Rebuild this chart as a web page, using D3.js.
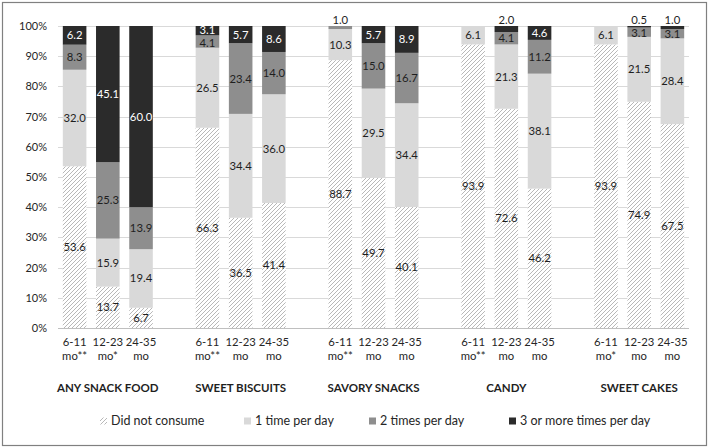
<!DOCTYPE html>
<html>
<head>
<meta charset="utf-8">
<script src="https://cdn.jsdelivr.net/npm/d3@7"></script>
<style>
  html, body { margin: 0; padding: 0; background: #fff; }
  svg { display: block; font-family: Lato, "Open Sans", sans-serif; }
</style>
</head>
<body>
<svg id="chart" width="709" height="448"></svg>
<script>
// ---- data ----
const groups = ["ANY SNACK FOOD", "SWEET BISCUITS", "SAVORY SNACKS", "CANDY", "SWEET CAKES"];
const ageTop = ["6-11", "12-23", "24-35"];
const ageBottom = [
  ["mo**", "mo*", "mo"],
  ["mo**", "mo", "mo"],
  ["mo**", "mo", "mo"],
  ["mo**", "mo", "mo"],
  ["mo*", "mo", "mo"]
];
const seriesNames = ["Did not consume", "1 time per day", "2 times per day", "3 or more times per day"];
const didNotConsume = [53.6, 13.7, 6.7, 66.3, 36.5, 41.4, 88.7, 49.7, 40.1, 93.9, 72.6, 46.2, 93.9, 74.9, 67.5];
const oncePerDay    = [32.0, 15.9, 19.4, 26.5, 34.4, 36.0, 10.3, 29.5, 34.4, 6.1, 21.3, 38.1, 6.1, 21.5, 28.4];
const twicePerDay   = [8.3, 25.3, 13.9, 4.1, 23.4, 14.0, 1.0, 15.0, 16.7, 0, 4.1, 11.2, 0, 3.1, 3.1];
const threePlus     = [6.2, 45.1, 60.0, 3.1, 5.7, 8.6, 0, 5.7, 8.9, 0, 2.0, 4.6, 0, 0.5, 1.0];
const yTicks = [0, 10, 20, 30, 40, 50, 60, 70, 80, 90, 100];

(function () {
// ---- build table ----
const keys = ["s0", "s1", "s2", "s3"];
const rows = [];
const domain = [];
groups.forEach((g, gi) => {
  for (let a = 0; a < 3; a++) {
    const i = gi * 3 + a;
    const id = "b" + i;
    rows.push({ id, gi, a, s0: didNotConsume[i], s1: oncePerDay[i], s2: twicePerDay[i], s3: threePlus[i] });
    domain.push(id);
  }
  if (gi < groups.length - 1) domain.push("gap" + gi);
});

const svg = d3.select("#chart");
const W = 709, H = 448;
const mLeft = 58, mRight = 689, mTop = 26, mBottom = 328;

// border
svg.append("rect").attr("x", 2.5).attr("y", 2.5).attr("width", W - 5).attr("height", H - 5)
  .attr("fill", "#fff").attr("stroke", "#808080").attr("stroke-width", 1.2);

// hatch pattern
const defs = svg.append("defs");
const pat = defs.append("pattern").attr("id", "hatch").attr("patternUnits", "userSpaceOnUse")
  .attr("width", 4).attr("height", 4);
pat.append("rect").attr("width", 4).attr("height", 4).attr("fill", "#fff");
pat.append("path").attr("d", "M-1,1 L1,-1 M0,4 L4,0 M3,5 L5,3")
  .attr("stroke", "#ababab").attr("stroke-width", 0.85);

const fills = ["url(#hatch)", "#d9d9d9", "#8e8e8e", "#2b2b2b"];
const labelColors = ["#1f1f1f", "#1f1f1f", "#1f1f1f", "#ffffff"];

const x = d3.scaleBand().domain(domain).range([mLeft, mRight]).paddingInner(0.29).paddingOuter(0.145);
const y = d3.scaleLinear().domain([0, 1]).range([mBottom, mTop]);

// gridlines
svg.append("g").selectAll("line").data(yTicks).join("line")
  .attr("x1", mLeft).attr("x2", mRight)
  .attr("y1", d => Math.round(y(d / 100)) + 0.5).attr("y2", d => Math.round(y(d / 100)) + 0.5)
  .attr("stroke", d => d === 0 ? "#bfbfbf" : "#d9d9d9").attr("stroke-width", 1);

// y axis labels
const yAxis = d3.axisLeft(y).tickValues(yTicks.map(d => d / 100)).tickFormat(d => Math.round(d * 100) + "%").tickSize(0).tickPadding(0);
const ya = svg.append("g").attr("transform", `translate(47,0)`).call(yAxis);
ya.select(".domain").remove();
ya.selectAll("text").attr("font-family", "Lato").attr("font-size", 11).attr("fill", "#262626");

// stack
const stack = d3.stack().keys(keys).offset(d3.stackOffsetExpand);
const stacked = stack(rows);

const layers = svg.append("g").selectAll("g").data(stacked).join("g")
  .attr("fill", (d, i) => fills[i]);
layers.selectAll("rect").data(d => d).join("rect")
  .attr("x", d => x(d.data.id))
  .attr("width", x.bandwidth())
  .attr("y", d => y(d[1]))
  .attr("height", d => Math.max(0, y(d[0]) - y(d[1])));

// data labels, collected per bar
const perBar = {};
stacked.forEach((layer, si) => {
  layer.forEach(d => {
    const v = d.data[keys[si]];
    if (!v) return;
    const cx = x(d.data.id) + x.bandwidth() / 2;
    let cy, col;
    if (v < 2.5) {
      cy = y(1) - 6;
      col = "#1f1f1f";
    } else {
      cy = (y(d[0]) + y(d[1])) / 2;
      col = labelColors[si];
    }
    (perBar[d.data.id] = perBar[d.data.id] || []).push({ cx, cy, col, v });
  });
});
const minGap = 13;
Object.values(perBar).forEach(list => {
  list.sort((a, b) => b.cy - a.cy); // bottom to top
  for (let k = 1; k < list.length; k++) {
    const lo = list[k - 1], hi = list[k];
    const gap = lo.cy - hi.cy;
    if (gap < minGap) {
      const shift = (minGap - gap) / 2;
      lo.cy += shift; hi.cy -= shift;
    }
  }
});
const lab = svg.append("g").attr("font-size", 11.3).attr("text-anchor", "middle");
Object.values(perBar).forEach(list => list.forEach(l => {
  lab.append("text").attr("x", l.cx).attr("y", l.cy).attr("dy", "0.35em")
    .attr("fill", l.col).text(l.v.toFixed(1));
}));

// x tick labels
const xl = svg.append("g").attr("font-size", 11.3).attr("fill", "#262626").attr("text-anchor", "middle");
rows.forEach(r => {
  const cx = x(r.id) + x.bandwidth() / 2;
  xl.append("text").attr("x", cx).attr("y", 342).attr("dy", "0.35em").text(ageTop[r.a]);
  xl.append("text").attr("x", cx).attr("y", 356).attr("dy", "0.35em").text(ageBottom[r.gi][r.a]);
});

// group labels
const gl = svg.append("g").attr("font-size", 11.5).attr("font-weight", "bold").attr("fill", "#1f1f1f").attr("text-anchor", "middle");
groups.forEach((g, gi) => {
  const x0 = x("b" + (gi * 3)), x1 = x("b" + (gi * 3 + 2)) + x.bandwidth();
  gl.append("text").attr("x", (x0 + x1) / 2).attr("y", 388).attr("dy", "0.35em").text(g);
});

// legend
const legendX = [100, 244, 369, 509];
const lg = svg.append("g").attr("font-size", 12.5).attr("fill", "#262626");
seriesNames.forEach((s, i) => {
  const g = lg.append("g").attr("transform", `translate(${legendX[i]},421)`);
  g.append("rect").attr("x", 0).attr("y", -3.5).attr("width", 7).attr("height", 7)
    .attr("fill", fills[i]);
  g.append("text").attr("x", 11).attr("y", 0).attr("dy", "0.35em").text(s);
});
})();
</script>
</body>
</html>
